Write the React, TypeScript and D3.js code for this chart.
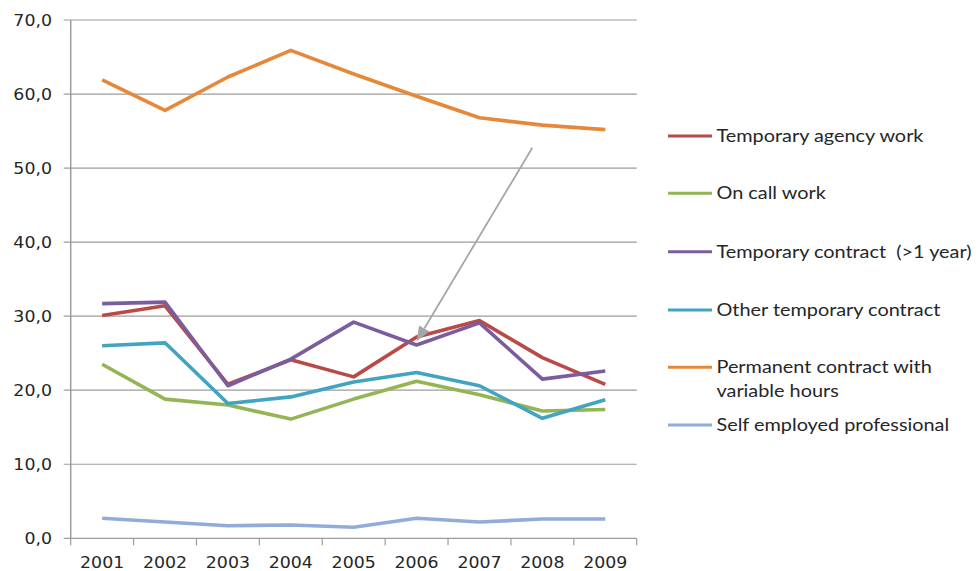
import React from "react";
import * as d3 from "d3";

const years = ["2001", "2002", "2003", "2004", "2005", "2006", "2007", "2008", "2009"];
const yTicks = [0, 10, 20, 30, 40, 50, 60, 70];

const temporaryAgency = [30.1, 31.4, 20.8, 24.1, 21.8, 27.2, 29.4, 24.4, 20.8];
const onCall = [23.5, 18.8, 18.0, 16.1, 18.8, 21.2, 19.4, 17.2, 17.4];
const temporaryContract = [31.7, 31.9, 20.6, 24.2, 29.2, 26.1, 29.1, 21.5, 22.6];
const otherTemporary = [26.0, 26.4, 18.2, 19.1, 21.1, 22.4, 20.6, 16.2, 18.7];
const permanentVariable = [61.9, 57.8, 62.3, 65.9, 62.7, 59.7, 56.8, 55.8, 55.2];
const selfEmployed = [2.7, 2.2, 1.7, 1.8, 1.5, 2.7, 2.2, 2.6, 2.6];

const seriesNames = [
  "Temporary agency work",
  "On call work",
  "Temporary contract  (>1 year)",
  "Other temporary contract",
  "Permanent contract with\nvariable hours",
  "Self employed professional",
];
const seriesValues = [temporaryAgency, onCall, temporaryContract, otherTemporary, permanentVariable, selfEmployed];
const seriesColors = ["#BA4A47", "#93B553", "#7B5D9E", "#42A4BF", "#E6883A", "#92ACDA"];

// annotation arrow in data space: [yearIndex, value]
const arrowFrom = [6.84, 52.75];
const arrowTo = [5.0, 26.6];

export default function App() {
  const W = 978, H = 571;
  const left = 70.7, right = 636.7, top = 20, bottom = 538.3;
  const x = d3.scaleBand().domain(years).range([left, right]);
  const y = d3.scaleLinear().domain([0, 70]).range([bottom, top]);
  const cx = (i: number) => (x(years[0]) as number) + x.bandwidth() / 2 + i * x.step();
  const line = d3.line<number>().x((_, i) => cx(i)).y((d) => y(d));

  const legendY = [136, 193.3, 251.7, 310, 367.3, 425];
  const axisColor = "#9C9C9C";
  const font = "'DejaVu Sans', Verdana, sans-serif";
  const legendFont = "Lato, 'Open Sans', sans-serif";

  const ticksX = d3.range(years.length + 1).map((i) => left + i * x.step());

  return (
    <svg width={W} height={H} style={{ position: "absolute", left: 0, top: 0, background: "#fff" }}>
      {yTicks.map((t) => (
        <g key={t}>
          <line x1={left - 7} x2={right} y1={y(t)} y2={y(t)} stroke={axisColor} strokeWidth={1.2} />
          <text x={52} y={y(t)} dy="0.36em" textAnchor="end" fontFamily={font} fontSize={15.5} fill="#262626"
            transform={`translate(52,0) scale(1.12,1) translate(-52,0)`}>
            {d3.format(".1f")(t).replace(".", ",")}
          </text>
        </g>
      ))}
      <line x1={left} x2={left} y1={top} y2={bottom} stroke={axisColor} strokeWidth={1.5} />
      {ticksX.map((tx, i) => (
        <line key={i} x1={tx} x2={tx} y1={bottom} y2={bottom + 7} stroke={axisColor} strokeWidth={1.2} />
      ))}
      {years.map((yr, i) => (
        <text key={yr} x={cx(i)} y={568} textAnchor="middle" fontFamily={font} fontSize={15.5} fill="#262626"
          transform={`translate(${cx(i)},0) scale(1.12,1) translate(${-cx(i)},0)`}>
          {yr}
        </text>
      ))}
      {seriesValues.map((vals, k) => (
        <path key={k} d={line(vals) || ""} fill="none" stroke={seriesColors[k]} strokeWidth={3.6} strokeLinejoin="round" />
      ))}
      {(() => {
        const x1 = cx(arrowFrom[0]), y1 = y(arrowFrom[1]);
        const x2 = cx(arrowTo[0]), y2 = y(arrowTo[1]);
        const ang = Math.atan2(y2 - y1, x2 - x1);
        const len = 15, wid = 6;
        const bx = x2 - len * Math.cos(ang), by = y2 - len * Math.sin(ang);
        const px = -Math.sin(ang) * wid, py = Math.cos(ang) * wid;
        return (
          <g>
            <line x1={x1} y1={y1} x2={bx} y2={by} stroke="#A6A6A6" strokeWidth={1.8} />
            <polygon points={`${x2},${y2} ${bx + px},${by + py} ${bx - px},${by - py}`} fill="#A6A6A6" />
          </g>
        );
      })()}
      {seriesNames.map((name, k) => (
        <g key={k}>
          <line x1={668} x2={712} y1={legendY[k]} y2={legendY[k]} stroke={seriesColors[k]} strokeWidth={3} />
          {name.split("\n").map((ln, j) => (
            <text key={j} x={716.5} y={legendY[k] + j * 23.4} dy="0.35em" fontFamily={legendFont} fontSize={17.5} fill="#262626"
              transform={`translate(716.5,0) scale(1.135,1) translate(-716.5,0)`}>
              {ln.replace(/ {2}/g, "\u00a0 ")}
            </text>
          ))}
        </g>
      ))}
    </svg>
  );
}
